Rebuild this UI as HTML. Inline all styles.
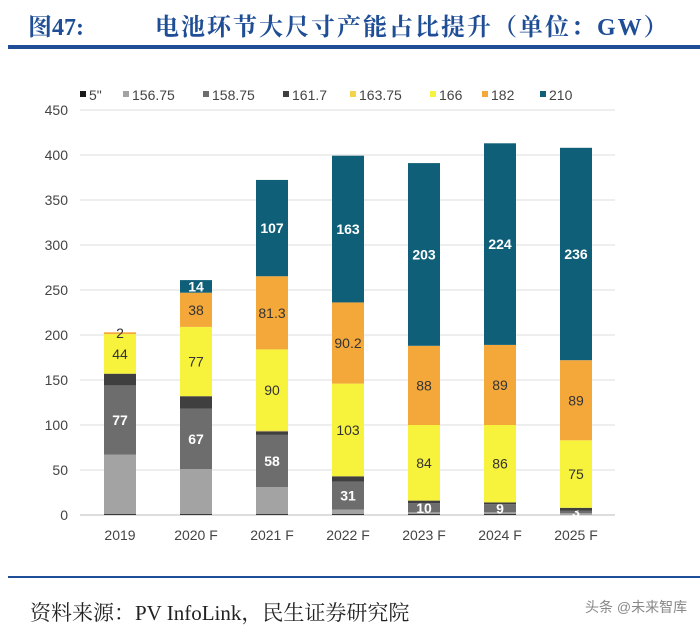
<!DOCTYPE html>
<html><head><meta charset="utf-8"><style>
body{margin:0;background:#fff;width:700px;height:630px;overflow:hidden;font-family:"Liberation Sans","Noto Sans CJK SC",sans-serif}
</style></head><body>
<svg width="700" height="630" xmlns="http://www.w3.org/2000/svg" id="chart">
<text x="28" y="35" font-size="24" font-weight="bold" fill="#1f4e96" font-family="'Liberation Serif','Noto Serif CJK SC',serif">图47:</text>
<text x="155" y="35" font-size="24" font-weight="bold" fill="#1f4e96" letter-spacing="2" font-family="'Liberation Serif','Noto Serif CJK SC',serif">电池环节大尺寸产能占比提升（单位：GW）</text>
<rect x="8" y="45" width="692" height="4" fill="#1f4e96"/>
<g id="legend"></g>
<g id="grid"></g>
<g id="yaxis"></g>
<g id="bars"></g>
<g id="xaxis"></g>
<rect x="8" y="576" width="692" height="2" fill="#1f4e96"/>
<text x="30" y="620" font-size="21" fill="#222" font-family="'Liberation Serif','Noto Serif CJK SC',serif">资料来源：PV InfoLink，民生证券研究院</text>
<text x="585" y="612" font-size="14" fill="#888">头条 @未来智库</text>
</svg>
<script>
const categories=["2019","2020 F","2021 F","2022 F","2023 F","2024 F","2025 F"];
const seriesNames=['5"',"156.75","158.75","161.7","163.75","166","182","210"];
const s5=[1,1,1,1,1,1,0];
const s15675=[66,50,30,5,2,2,2];
const s15875=[77,67,58,31,10,9,3];
const s1617=[13,14,4,6,3,2,3];
const s16375=[0,0,1,0,0,0,0];
const s166=[44,77,90,103,84,86,75];
const s182=[2,38,81.3,90.2,88,89,89];
const s210=[0,14,107,163,203,224,236];
const yTicks=[0,50,100,150,200,250,300,350,400,450];
const series=[s5,s15675,s15875,s1617,s16375,s166,s182,s210];
const colors=["#1a1a1a","#a3a3a3","#6d6d6d","#3f3f3f","#f3d34a","#f7f23c","#f5a83a","#0f5f78"];
const labeled=[false,false,true,false,false,true,true,true];
const labelColor=["#fff","#fff","#fff","#fff","#333","#333","#333","#fff"];
const NS="http://www.w3.org/2000/svg";
const y0=515,k=0.9;
const yScale=v=>y0-v*k;
const xCenter=i=>120+i*76;
const bw=32;
function mk(tag,attrs,parent){const e=document.createElementNS(NS,tag);for(const a in attrs)e.setAttribute(a,attrs[a]);parent.appendChild(e);return e;}
const grid=document.getElementById('grid'),yax=document.getElementById('yaxis');
yTicks.forEach(t=>{
  const l=mk('line',{x1:80,x2:615,y1:yScale(t),y2:yScale(t),stroke:t===0?'#bbb':'#ddd','stroke-width':1},grid);
  
  
  const tx=mk('text',{x:68,y:yScale(t)+5,'text-anchor':'end','font-size':14,fill:'#444'},yax);
  tx.textContent=t;
  
  
});
const bars=document.getElementById('bars'),xax=document.getElementById('xaxis');
categories.forEach((c,i)=>{
  let cum=0;
  series.forEach((s,j)=>{
    const v=s[i];if(v<=0)return;
    const r=mk('rect',{x:xCenter(i)-bw/2,y:yScale(cum+v),width:bw,height:v*k,fill:colors[j]},bars);
    
    
    if(labeled[j]){
      const mid=yScale(cum+v/2);
      const t=mk('text',{x:xCenter(i),y:mid+5,'text-anchor':'middle','font-size':14,fill:labelColor[j],'font-weight':j===7||j===2?'bold':'normal'},bars);
      t.textContent=v;
      
      
    }
    cum+=v;
  });
  const xt=mk('text',{x:xCenter(i),y:540,'text-anchor':'middle','font-size':14,fill:'#444'},xax);
  xt.textContent=c;
  
  
});
const lg=document.getElementById('legend');
const lx=[80,123,203,283,350,430,482,540];
seriesNames.forEach((n,j)=>{
  const r=mk('rect',{x:lx[j],y:91,width:6,height:6,fill:colors[j]},lg);
  
  
  const t=mk('text',{x:lx[j]+9,y:100,'font-size':14,fill:'#444'},lg);
  t.textContent=n;
  
  
});
</script>
</body></html>
